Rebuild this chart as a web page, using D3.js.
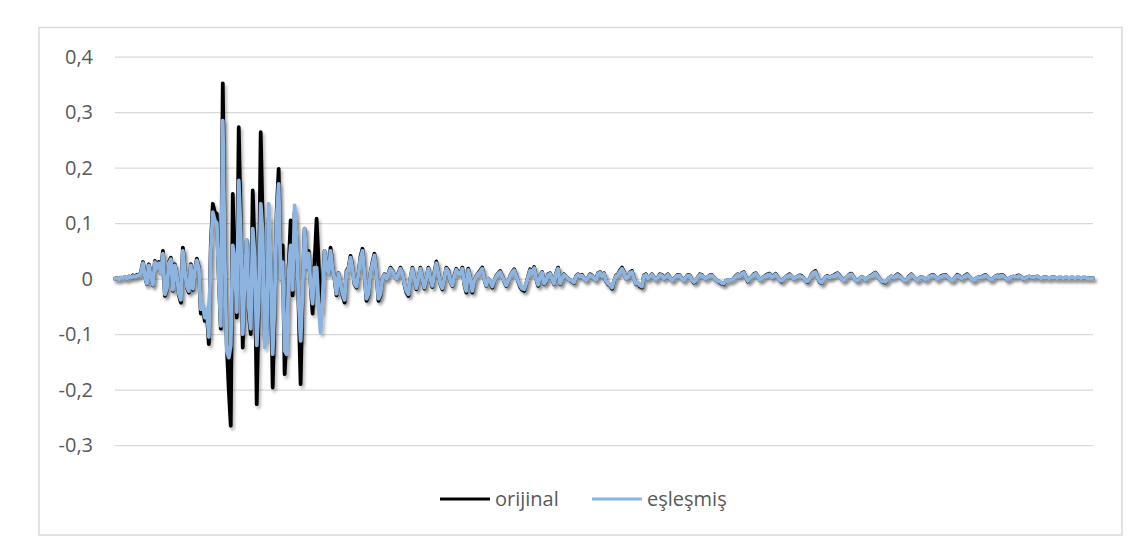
<!DOCTYPE html>
<html><head><meta charset="utf-8">
<script src="https://cdn.jsdelivr.net/npm/d3@7"></script>
<style>
html,body{margin:0;padding:0;background:#fff;}
svg{display:block;}
text{font-family:"Open Sans",sans-serif;fill:#595959;}
</style></head>
<body>
<svg id="c" width="1132" height="540"></svg>
<script>
const seriesNames = ["orijinal", "eşleşmiş"];
const yTicks = [-0.3, -0.2, -0.1, 0, 0.1, 0.2, 0.3, 0.4];
const yTickLabels = ["-0,3", "-0,2", "-0,1", "0", "0,1", "0,2", "0,3", "0,4"];

const orijinal = [
0,0.001,-0.001,0.002,0.001,0.003,0,0.004,0.002,0.006,
0.003,0.007,0.005,0.012,0.030,0.005,-0.010,0.026,0.004,-0.012,
0.032,0.020,0.030,0.010,0.050,-0.031,-0.020,0.030,0.038,-0.022,
0.026,0.005,-0.030,-0.043,0.056,0.015,-0.015,-0.025,0.026,-0.020,
0.015,0.036,0.020,-0.063,-0.050,-0.076,-0.060,-0.118,0.060,0.135,
0.120,0.117,0.000,-0.090,0.352,0.050,-0.120,-0.200,-0.265,0.153,
0.020,-0.070,0.273,0.100,-0.124,0.000,0.069,-0.060,-0.100,0.159,
0.050,-0.226,-0.050,0.264,0.100,-0.110,-0.090,0.110,0.030,-0.196,
-0.050,0.120,0.198,0.000,0.060,-0.172,-0.100,0.020,0.105,-0.030,
0.120,0.070,-0.050,-0.190,-0.020,0.090,0.020,0.050,-0.010,-0.063,
0.030,0.108,0.030,-0.060,-0.020,0.050,0.020,0.010,0.056,0.020,
0.000,-0.030,0.010,-0.010,-0.030,-0.043,0.014,0.020,0.041,0.020,
-0.010,-0.016,0.010,0.040,0.054,0.010,-0.040,-0.030,0.010,0.030,
0.045,0.010,-0.040,-0.030,0.000,0.008,0.000,0.010,0.020,0.015,
0.005,0.000,0.010,0.020,0.010,-0.010,-0.025,-0.031,0.000,0.020,
0.000,-0.019,0.000,0.020,0.000,-0.018,0.000,0.020,0.000,-0.015,
0.010,0.031,0.010,-0.010,-0.019,0.000,0.020,0.015,-0.005,-0.013,
0.005,0.018,0.010,0.010,0.020,-0.010,-0.025,0.018,0.000,-0.025,
-0.005,0.005,0.010,0.015,0.020,0.000,-0.013,0.000,-0.005,-0.016,
-0.005,0.005,0.010,0.014,0.005,-0.005,-0.013,-0.005,0.005,0.012,
0.017,0.005,-0.005,-0.015,-0.020,-0.022,-0.010,0.005,0.017,0.010,
0.021,0.000,-0.013,0.005,0.012,-0.010,-0.005,0.008,0.010,0.000,
-0.010,0.010,0.020,-0.010,0.000,0.008,0.004,0.000,-0.002,-0.005,
-0.008,0.005,0.008,0.004,0.007,0.000,-0.003,0.002,0.008,0.006,
0.000,-0.002,0.010,0.012,0.004,0.010,-0.005,-0.010,-0.012,-0.018,
-0.005,0.006,0.008,0.015,0.020,0.012,0.000,0.002,0.012,0.014,
0.000,-0.010,-0.008,-0.014,-0.016,0.006,0.008,0.000,0.004,0.008,
0.002,-0.002,0.002,0.008,0.007,0.000,0.005,0.008,0.002,-0.003,
0.000,0.004,0.007,0.006,0.000,-0.003,0.002,0.007,0.006,-0.002,
-0.007,-0.005,0.003,0.008,0.007,0.002,0.000,0.003,0.006,0.007,
0.002,-0.002,-0.004,-0.006,-0.009,-0.010,-0.004,-0.002,-0.003,-0.002,
0.000,0.005,0.008,0.004,0.010,0.012,0.003,-0.005,0.000,0.004,
0.008,0.010,0.004,-0.002,0.000,0.003,0.006,0.008,0.009,0.002,
0.006,0.009,0.003,-0.003,-0.005,0.000,0.003,0.006,0.008,0.004,
0.000,0.002,0.004,0.006,0.005,0.001,-0.004,-0.006,0.000,0.008,
0.012,0.014,0.002,-0.006,-0.008,-0.002,0.003,0.005,0.002,0.004,
0.006,0.008,0.010,0.006,0.000,-0.003,0.001,0.004,0.008,0.009,
0.003,-0.002,-0.004,0.000,0.003,0.002,-0.002,0.001,0.004,0.006,
0.009,0.011,0.006,0.000,-0.004,-0.006,-0.007,-0.002,0.002,0.004,
0.002,0.005,0.008,0.006,0.002,-0.002,-0.004,0.000,0.005,0.008,
0.004,0.000,-0.003,0.001,0.003,0.002,-0.002,0.000,0.004,0.006,
0.007,0.003,-0.001,0.002,0.005,0.006,0.007,0.004,0.000,-0.003,
-0.002,0.003,0.007,0.005,0.000,0.002,0.006,0.008,0.004,-0.001,
-0.003,-0.001,0.002,0.003,0.002,0.005,0.007,0.004,0.000,-0.002,
0.001,0.004,0.006,0.005,0.007,0.006,0.002,-0.002,0.000,0.003,
0.004,0.003,0.005,0.006,0.003,0.000,0.001,0.003,0.004,0.003,
0.002,0.003,0.004,0.002,0.001,0.002,0.003,0.002,0.001,0.002,
0.003,0.002,0.001,0.002,0.002,0.001,0.002,0.002,0.001,0.002,
0.002,0.001,0.002,0.002,0.001,0.002,0.002,0.001,0.001,0.001,
0.001
];

const eslesmis = [
0,0.001,-0.001,0.002,0.001,0.003,0,0.004,0.002,0.005,
0.003,0.006,0.005,0.011,0.028,0.005,-0.009,0.024,0.004,-0.011,
0.030,0.019,0.028,0.010,0.045,-0.028,-0.018,0.028,0.035,-0.020,
0.024,0.005,-0.027,-0.038,0.050,0.014,-0.014,-0.022,0.024,-0.018,
0.014,0.033,0.018,-0.055,-0.045,-0.070,-0.055,-0.105,0.050,0.120,
0.105,0.100,0.000,-0.085,0.285,0.040,-0.130,-0.142,-0.120,0.060,
0.030,-0.060,0.177,0.080,-0.100,0.000,0.070,-0.050,-0.090,0.090,
0.040,-0.120,-0.040,0.135,0.080,-0.124,-0.110,0.135,0.030,-0.136,
-0.040,0.110,0.171,0.000,0.030,-0.130,-0.136,0.010,0.060,-0.020,
0.132,0.070,-0.040,-0.112,-0.020,0.090,0.020,0.045,-0.010,-0.045,
0.020,0.020,-0.050,-0.097,-0.040,0.050,0.020,0.010,0.050,0.018,
0.000,-0.027,0.009,-0.009,-0.027,-0.038,0.012,0.018,0.038,0.018,
-0.009,-0.014,0.009,0.036,0.050,0.009,-0.036,-0.027,0.009,0.027,
0.042,0.009,-0.036,-0.027,0.000,0.007,0.000,0.009,0.018,0.014,
0.005,0.000,0.009,0.018,0.009,-0.009,-0.022,-0.028,0.000,0.018,
0.000,-0.017,0.000,0.018,0.000,-0.016,0.000,0.018,0.000,-0.013,
0.009,0.028,0.009,-0.009,-0.017,0.000,0.018,0.013,-0.004,-0.012,
0.004,0.016,0.009,0.009,0.018,-0.009,-0.022,0.016,0.000,-0.022,
-0.004,0.004,0.009,0.013,0.018,0.000,-0.012,0.000,-0.004,-0.014,
-0.004,0.004,0.009,0.012,0.004,-0.004,-0.012,-0.004,0.004,0.011,
0.015,0.004,-0.004,-0.013,-0.018,-0.019,-0.009,0.004,0.015,0.009,
0.019,0.000,-0.011,0.004,0.011,-0.009,-0.004,0.007,0.009,0.000,
-0.009,0.009,0.018,-0.009,0.000,0.007,0.004,0.000,-0.002,-0.004,
-0.007,0.004,0.007,0.004,0.006,0.000,-0.003,0.002,0.007,0.005,
0.000,-0.002,0.009,0.011,0.004,0.009,-0.004,-0.009,-0.011,-0.016,
-0.004,0.005,0.007,0.013,0.018,0.011,0.000,0.002,0.011,0.012,
0.000,-0.009,-0.007,-0.012,-0.014,0.005,0.007,0.000,0.004,0.007,
0.002,-0.002,0.002,0.007,0.006,0.000,0.004,0.007,0.002,-0.003,
0.000,0.004,0.006,0.005,0.000,-0.003,0.002,0.006,0.005,-0.002,
-0.006,-0.004,0.003,0.007,0.006,0.002,0.000,0.003,0.005,0.006,
0.002,-0.002,-0.004,-0.005,-0.008,-0.009,-0.004,-0.002,-0.003,-0.002,
0.000,0.004,0.007,0.004,0.009,0.011,0.003,-0.004,0.000,0.004,
0.007,0.009,0.004,-0.002,0.000,0.003,0.005,0.007,0.008,0.002,
0.005,0.008,0.003,-0.003,-0.004,0.000,0.003,0.005,0.007,0.004,
0.000,0.002,0.004,0.005,0.004,0.001,-0.004,-0.005,0.000,0.007,
0.011,0.012,0.002,-0.005,-0.007,-0.002,0.003,0.004,0.002,0.004,
0.005,0.007,0.009,0.005,0.000,-0.003,0.001,0.004,0.007,0.008,
0.003,-0.002,-0.004,0.000,0.003,0.002,-0.002,0.001,0.004,0.005,
0.008,0.010,0.005,0.000,-0.004,-0.005,-0.006,-0.002,0.002,0.004,
0.002,0.004,0.007,0.005,0.002,-0.002,-0.004,0.000,0.004,0.007,
0.004,0.000,-0.003,0.001,0.003,0.002,-0.002,0.000,0.004,0.005,
0.006,0.003,-0.001,0.002,0.004,0.005,0.006,0.004,0.000,-0.003,
-0.002,0.003,0.006,0.004,0.000,0.002,0.005,0.007,0.004,-0.001,
-0.003,-0.001,0.002,0.003,0.002,0.004,0.006,0.004,0.000,-0.002,
0.001,0.004,0.005,0.004,0.006,0.005,0.002,-0.002,0.000,0.003,
0.004,0.003,0.004,0.005,0.003,0.000,0.001,0.003,0.004,0.003,
0.002,0.003,0.004,0.002,0.001,0.002,0.003,0.002,0.001,0.002,
0.003,0.002,0.001,0.002,0.002,0.001,0.002,0.002,0.001,0.002,
0.002,0.001,0.002,0.002,0.001,0.002,0.002,0.001,0.001,0.001,
0.001
];

const colors = ["#000000", "#8db3df"];

const W = 1132, H = 540;
const plot = {left: 115, right: 1093, top: 56.7, bottom: 445.2};
const svg = d3.select("#c");

const defs = svg.append("defs");
const f = defs.append("filter").attr("id","sh").attr("x","-5%").attr("y","-10%").attr("width","110%").attr("height","130%");
f.append("feDropShadow").attr("dx",2).attr("dy",3).attr("stdDeviation",1.8)
  .attr("flood-color","#000").attr("flood-opacity",0.28);

// chart border
svg.append("rect").attr("x",39).attr("y",27.5).attr("width",1083).attr("height",507.5)
  .attr("fill","#fff").attr("stroke","#d9d9d9").attr("stroke-width",1.5);

const n = Math.max(orijinal.length, eslesmis.length);
const x = d3.scaleLinear().domain([0, n - 1]).range([plot.left, plot.right]);
const y = d3.scaleLinear().domain([-0.3, 0.4]).range([plot.bottom, plot.top]);

// gridlines + labels via axis
const yAxis = d3.axisLeft(y).tickValues(yTicks)
  .tickFormat((d,i) => yTickLabels[i])
  .tickSize(-(plot.right - plot.left)).tickPadding(22);
const ga = svg.append("g").attr("transform", `translate(${plot.left},0)`).call(yAxis);
ga.select(".domain").remove();
ga.selectAll(".tick line").attr("stroke","#d9d9d9").attr("stroke-width",1.3);
ga.selectAll(".tick text").attr("font-size","20px").attr("fill","#595959")
  .style("font-family","'Open Sans', sans-serif");

const line = d3.line().x((d,i) => x(i)).y(d => y(d)).curve(d3.curveLinear);

const data = [orijinal, eslesmis];
svg.append("g").selectAll("path").data(data).join("path")
  .attr("d", d => line(d))
  .attr("fill","none")
  .attr("stroke",(d,i) => colors[i])
  .attr("stroke-width",3.8)
  .attr("stroke-linejoin","round")
  .attr("stroke-linecap","round")
  .attr("filter","url(#sh)");

// legend
const leg = svg.append("g").attr("transform","translate(0,499)");
const legX = [440, 592];
seriesNames.forEach((s,i) => {
  leg.append("line").attr("x1",legX[i]).attr("x2",legX[i]+50).attr("y1",0).attr("y2",0)
    .attr("stroke",colors[i]).attr("stroke-width",3.2);
  leg.append("text").attr("x",legX[i]+55).attr("y",0).attr("dy","0.35em")
    .attr("font-size","20px").text(s);
});
</script>
</body></html>
